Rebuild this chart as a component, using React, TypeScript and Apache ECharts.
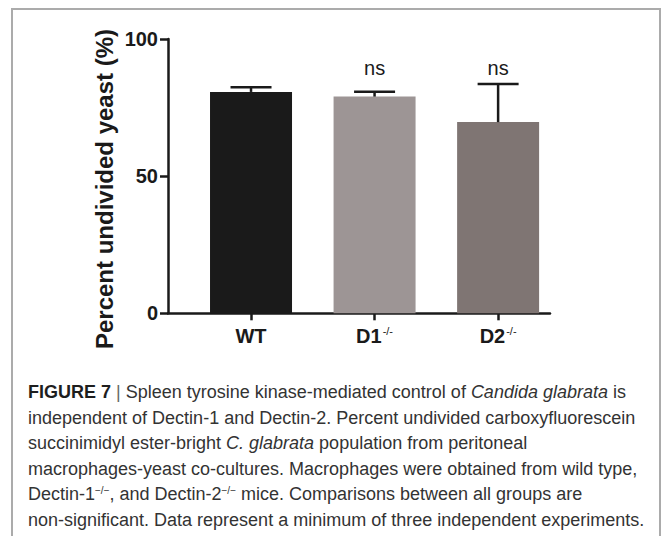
import React, { useEffect, useRef } from "react";
import * as echarts from "echarts";

const categories = ["WT", "D1", "D2"];
const categorySuperscripts = ["", "-/-", "-/-"];
const categoryPositions = [1, 2, 3];
const meanValues = [80.7, 79.0, 69.7];
const errorTopValues = [82.4, 80.8, 83.6];
const significanceLabels = ["", "ns", "ns"];
const barColors = ["#1a1a1a", "#9d9595", "#7f7573"];
const yTickValues = [0, 50, 100];
const yAxisTitle = "Percent undivided yeast (%)";
const captionLines = [
  "{b|FIGURE 7} {bar||} Spleen tyrosine kinase-mediated control of {i|Candida glabrata} is",
  "independent of Dectin-1 and Dectin-2. Percent undivided carboxyfluorescein",
  "succinimidyl ester-bright {i|C. glabrata} population from peritoneal",
  "macrophages-yeast co-cultures. Macrophages were obtained from wild type,",
  "Dectin-1{s|\u2212/\u2212}, and Dectin-2{s|\u2212/\u2212} mice. Comparisons between all groups are",
  "non-significant. Data represent a minimum of three independent experiments.",
];

const FONT = "'Liberation Sans', Arial, Helvetica, sans-serif";
const NS_LEVEL = 89.3;

export default function App() {
  const ref = useRef<HTMLDivElement>(null);

  useEffect(() => {
    document.body.style.margin = "0";
    if (!ref.current) return;
    const chart = echarts.init(ref.current, undefined, { renderer: "svg" });

    const barData = categoryPositions.map((x, i) => ({
      value: [x, meanValues[i]],
      itemStyle: { color: barColors[i] },
    }));
    const errData = categoryPositions.map((x, i) => [x, meanValues[i], errorTopValues[i], i]);

    const captionRich = {
      b: { fontFamily: FONT, fontSize: 18, fontWeight: "bold", fill: "#1e1e1e", color: "#1e1e1e" },
      i: { fontFamily: FONT, fontSize: 18, fontStyle: "italic", fill: "#333", color: "#333" },
      bar: { fontFamily: FONT, fontSize: 18, fill: "#666", color: "#666" },
      s: { fontFamily: FONT, fontSize: 10, fill: "#333", color: "#333", verticalAlign: "top", padding: [0, 0, 8, 0] },
    };

    const graphics: any[] = [
      {
        type: "rect",
        shape: { x: 12, y: 9, width: 648, height: 560 },
        style: { fill: "none", stroke: "#ababab", lineWidth: 2 },
        silent: true,
      },
      {
        type: "text",
        x: 104,
        y: 189,
        rotation: Math.PI / 2,
        style: {
          text: yAxisTitle,
          fontFamily: FONT,
          fontSize: 24,
          fontWeight: "bold",
          fill: "#1a1a1a",
          align: "center",
          verticalAlign: "middle",
        },
      },
      ...captionLines.map((line, i) => ({
        type: "text",
        x: 28,
        y: 392 + i * 25.5,
        style: {
          text: line,
          fontFamily: FONT,
          fontSize: 18,
          fill: "#333",
          align: "left",
          verticalAlign: "middle",
          rich: captionRich,
        },
      })),
    ];

    chart.setOption({
      animation: false,
      backgroundColor: "#ffffff",
      grid: { left: 168, top: 39, right: 114, bottom: 222.7, containLabel: false },
      xAxis: {
        type: "value",
        min: 0.328,
        max: 3.42,
        axisLine: { show: true, lineStyle: { color: "#1a1a1a", width: 2.5 } },
        axisTick: {
          show: true,
          customValues: categoryPositions,
          length: 7,
          lineStyle: { color: "#1a1a1a", width: 2.5 },
        },
        splitLine: { show: false },
        axisLabel: {
          customValues: categoryPositions,
          margin: 12,
          formatter: (v: number) => {
            const i = Math.round(v) - 1;
            const sup = categorySuperscripts[i];
            return `{a|${categories[i]}}` + (sup ? `{s|${sup}}` : "");
          },
          rich: {
            a: { fontFamily: FONT, fontSize: 20, fontWeight: "bold", color: "#1a1a1a", lineHeight: 22 },
            s: { fontFamily: FONT, fontSize: 11, color: "#1a1a1a", verticalAlign: "top", lineHeight: 22, padding: [0, 0, 10, 1] },
          },
        },
      },
      yAxis: {
        type: "value",
        min: 0,
        max: 100,
        interval: 50,
        axisLine: { show: true, lineStyle: { color: "#1a1a1a", width: 2.5 } },
        axisTick: { show: true, length: 8, lineStyle: { color: "#1a1a1a", width: 2.5 } },
        splitLine: { show: false },
        axisLabel: {
          margin: 10,
          fontFamily: FONT,
          fontSize: 20,
          fontWeight: "bold",
          color: "#1a1a1a",
          customValues: yTickValues,
        },
      },
      graphic: graphics,
      series: [
        {
          type: "bar",
          data: barData,
          barWidth: 82,
          z: 2,
        },
        {
          type: "custom",
          data: errData,
          encode: { x: 0, y: [1, 2] },
          z: 3,
          renderItem: (params: any, api: any) => {
            const x = api.value(0);
            const m = api.value(1);
            const t = api.value(2);
            const idx = api.value(3);
            const pb = api.coord([x, m]);
            const pt = api.coord([x, t]);
            const half = 20.5;
            const lineStyle = { stroke: "#1a1a1a", lineWidth: 2.5 };
            const children: any[] = [
              { type: "line", shape: { x1: pb[0], y1: pb[1], x2: pt[0], y2: pt[1] }, style: lineStyle },
              { type: "line", shape: { x1: pt[0] - half, y1: pt[1], x2: pt[0] + half, y2: pt[1] }, style: lineStyle },
            ];
            const lab = significanceLabels[idx];
            if (lab) {
              const pn = api.coord([x, NS_LEVEL]);
              children.push({
                type: "text",
                x: pn[0],
                y: pn[1],
                style: {
                  text: lab,
                  fontFamily: FONT,
                  fontSize: 20,
                  fill: "#1a1a1a",
                  align: "center",
                  verticalAlign: "middle",
                },
              });
            }
            return { type: "group", children };
          },
        },
      ],
    });

    return () => {
      chart.dispose();
    };
  }, []);

  return <div ref={ref} style={{ width: 664, height: 536 }} />;
}
